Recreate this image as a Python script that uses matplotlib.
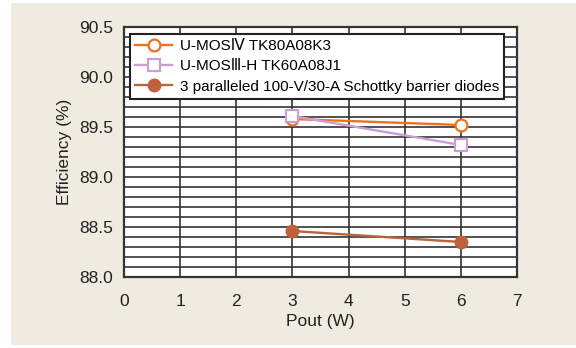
import matplotlib
matplotlib.use('Agg')
import matplotlib.pyplot as plt
from matplotlib.patches import Rectangle
import numpy as np

plt.rcParams['font.family'] = ['Liberation Sans', 'DejaVu Sans']

pout = [3, 6]
eff_umos4 = [89.58, 89.52]
eff_umos3 = [89.61, 89.32]
eff_sbd = [88.46, 88.35]
labels = ['U-MOS\u2163 TK80A08K3', 'U-MOS\u2162-H TK60A08J1',
          '3 paralleled 100-V/30-A Schottky barrier diodes']

fig = plt.figure(figsize=(5.76, 3.48), dpi=100)
fig.patch.set_facecolor('white')
fig.patches.append(Rectangle((11 / 576, 3 / 348), 1, 342 / 348, transform=fig.transFigure,
                             facecolor='#efebe1', edgecolor='none', zorder=-1))

ax = fig.add_axes([124 / 576, 71 / 348, 393 / 576, 250 / 348])
ax.set_facecolor('white')

ax.plot(pout, eff_umos4, color='#f07022', lw=1.7, marker='o', ms=8.5, mfc='white',
        mec='#f07022', mew=1.6, label=labels[0], zorder=4)
ax.plot(pout, eff_umos3, color='#c9a0d2', lw=1.7, marker='s', ms=8, mfc='white',
        mec='#c9a0d2', mew=1.6, label=labels[1], zorder=5)
ax.plot(pout, eff_sbd, color='#b8643c', lw=1.7, marker='o', ms=9, mfc='#c0603c',
        mec='#c0603c', label=labels[2], zorder=4)

ax.set_xlim(0, 7)
ax.set_ylim(88.0, 90.5)
ax.set_xticks(range(8))
ax.set_yticks(np.arange(88.0, 90.51, 0.5))
ax.set_yticklabels(['%.1f' % v for v in np.arange(88.0, 90.51, 0.5)])
ax.set_yticks(np.arange(88.0, 90.51, 0.1), minor=True)
ax.tick_params(axis='both', which='both', length=0, labelsize=12.5, colors='#222222')
ax.tick_params(axis='y', pad=8)
ax.tick_params(axis='x', pad=12)
ax.grid(True, which='major', axis='x', color='#333333', lw=1.2)
ax.grid(True, which='both', axis='y', color='#333333', lw=1.2)
ax.set_axisbelow(True)
for s in ax.spines.values():
    s.set_color('#333333')
    s.set_linewidth(1.6)

ax.set_xlabel('Pout (W)', fontsize=12.5, color='#222222', labelpad=4)
ax.set_ylabel('Efficiency (%)', fontsize=12.5, color='#222222', labelpad=5)

leg = ax.legend(loc='upper left', bbox_to_anchor=(0.015, 0.972), fontsize=11, frameon=True,
                fancybox=False, edgecolor='#222222', framealpha=1, borderpad=0.35,
                labelspacing=0.4, handlelength=2.4, handletextpad=0.5, borderaxespad=0)
leg.get_frame().set_linewidth(1.5)

fig.savefig('out.png', dpi=100, facecolor=fig.get_facecolor())
